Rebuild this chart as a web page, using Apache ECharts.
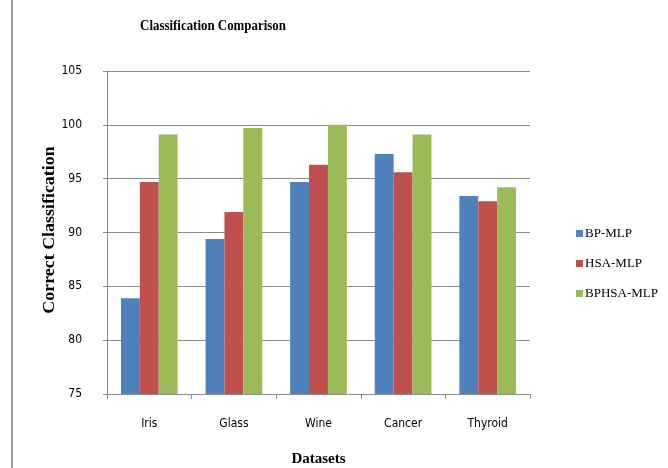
<!DOCTYPE html>
<html>
<head>
<meta charset="utf-8">
<script src="https://cdn.jsdelivr.net/npm/echarts@6/dist/echarts.min.js"></script>
<style>
  html, body { margin: 0; padding: 0; background: #fff; }
  #chart { width: 668px; height: 468px; }
</style>
</head>
<body>
<div id="chart"></div>
<script>
// Datasets on the x axis
const categories = ['Iris', 'Glass', 'Wine', 'Cancer', 'Thyroid'];

// Correct classification (%) per method
const bpMlp    = [83.9, 89.4, 94.7, 97.3, 93.4];
const hsaMlp   = [94.7, 91.9, 96.3, 95.6, 92.9];
const bphsaMlp = [99.1, 99.7, 100.0, 99.1, 94.2];

const seriesNames = ['BP-MLP', 'HSA-MLP', 'BPHSA-MLP'];
const seriesColors = ['#4f81bd', '#c0504d', '#9bbb59'];

const chart = echarts.init(document.getElementById('chart'), null, { renderer: 'canvas' });

const serif = '"Liberation Serif", "Times New Roman", serif';
const narrow = '"Liberation Sans Narrow", "DejaVu Sans Condensed", "Liberation Sans", sans-serif';

chart.setOption({
  animation: false,
  backgroundColor: '#ffffff',
  legend: {
    orient: 'vertical',
    left: 571,
    top: 222,
    itemWidth: 7,
    itemHeight: 7,
    itemGap: 17,
    icon: 'rect',
    textStyle: { fontFamily: serif, fontSize: 13, color: '#000', padding: [0, 0, 0, -3] },
    data: seriesNames
  },
  grid: { left: 107, right: 138, top: 71, bottom: 74, outerBoundsMode: 'none' },
  xAxis: {
    type: 'category',
    data: categories,
    name: 'Datasets',
    nameLocation: 'middle',
    nameGap: 58,
    nameMoveOverlap: false,
    nameTextStyle: { fontFamily: serif, fontWeight: 'bold', fontSize: 15, color: '#000' },
    axisLine: { lineStyle: { color: '#8c8c8c', width: 1 } },
    axisTick: { show: true, length: 5, alignWithLabel: false, lineStyle: { color: '#8c8c8c' } },
    axisLabel: { margin: 24, fontFamily: narrow, fontSize: 12, color: '#000' }
  },
  yAxis: {
    type: 'value',
    min: 75,
    max: 105,
    interval: 5,
    axisLine: { show: true, lineStyle: { color: '#8c8c8c', width: 1 } },
    axisTick: { show: true, length: 4, lineStyle: { color: '#8c8c8c' } },
    axisLabel: { margin: 25, fontFamily: narrow, fontSize: 12, color: '#000' },
    splitLine: { show: true, lineStyle: { color: '#8c8c8c', width: 1 } }
  },
  graphic: [
    // page border on the left
    {
      type: 'line',
      shape: { x1: 12, y1: 0, x2: 12, y2: 468 },
      style: { stroke: '#9a9a9a', lineWidth: 2 }
    },
    // condensed bold title
    {
      type: 'text',
      x: 213,
      y: 26,
      scaleX: 0.86,
      style: {
        text: 'Classification Comparison',
        font: 'bold 15px ' + serif,
        fill: '#000',
        align: 'center',
        verticalAlign: 'middle'
      }
    },
    // widely spaced vertical axis title
    {
      type: 'text',
      x: 50,
      y: 230,
      rotation: Math.PI / 2,
      scaleX: 1.12,
      style: {
        text: 'Correct Classification',
        font: 'bold 16px ' + serif,
        fill: '#000',
        align: 'center',
        verticalAlign: 'middle'
      }
    }
  ],
  series: [bpMlp, hsaMlp, bphsaMlp].map((vals, i) => ({
    name: seriesNames[i],
    type: 'bar',
    data: vals,
    barGap: '0%',
    barCategoryGap: '33%',
    itemStyle: { color: seriesColors[i] }
  }))
});
</script>
</body>
</html>
